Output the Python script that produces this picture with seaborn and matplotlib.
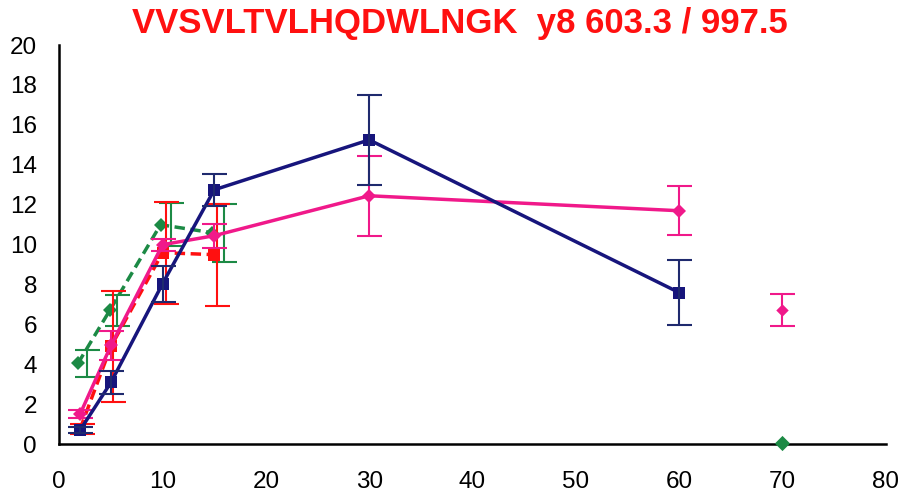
import numpy as np
import pandas as pd
import matplotlib
matplotlib.use("Agg")
import matplotlib.pyplot as plt
import seaborn as sns

# ---- data ----
title = "VVSVLTVLHQDWLNGK  y8 603.3 / 997.5"

navy_x = [2, 5, 10, 15, 30, 60]
navy_y = [0.7, 3.1, 8.05, 12.75, 15.25, 7.6]
navy_e = [0.15, 0.56, 0.9, 0.8, 2.25, 1.62]

pink_x = [2, 5, 10, 15, 30, 60]
pink_y = [1.5, 4.95, 10.0, 10.45, 12.45, 11.7]
pink_e = [0.2, 0.75, 0.3, 0.6, 2.0, 1.23]
pink_extra_x = [70]
pink_extra_y = [6.72]
pink_extra_e = [0.8]

green_x = [1.8, 4.9, 9.8, 14.8]
green_y = [4.05, 6.72, 11.0, 10.6]
green_e = [0.67, 0.77, 1.07, 1.46]
green_err_x = [2.65, 5.55, 10.8, 15.9]
green_extra_x = [70]
green_extra_y = [0.05]

red_x = [2, 5, 10, 15]
red_y = [0.75, 4.9, 9.6, 9.5]
red_e = [0.25, 2.8, 2.55, 2.55]
red_err_x = [2.2, 5.2, 10.3, 15.3]

x_ticks = [0, 10, 20, 30, 40, 50, 60, 70, 80]
y_ticks = [0, 2, 4, 6, 8, 10, 12, 14, 16, 18, 20]

NAVY = "#17157c"
PINK = "#f0198a"
GREEN = "#1c8a45"
RED = "#ff1010"

sns.set_style("white")
plt.rcParams['font.family'] = ['Liberation Sans', 'DejaVu Sans']

fig = plt.figure(figsize=(9.04, 4.96), dpi=100)
ax = fig.add_axes([0.0656, 0.1042, 0.9142, 0.805])

lw = 2.5
elw = 1.5
cap = 9

# green dashed
g = pd.DataFrame({"x": green_x, "y": green_y})
sns.lineplot(data=g, x="x", y="y", ax=ax, color=GREEN, lw=lw, linestyle=(0, (3, 1.6)),
             marker="D", markersize=7, markeredgewidth=0, zorder=2)
ax.errorbar(green_err_x, green_y, yerr=green_e, fmt="none", ecolor=GREEN,
            elinewidth=elw, capsize=cap, capthick=elw, zorder=2)
sns.scatterplot(x=green_extra_x, y=green_extra_y, ax=ax, color=GREEN, marker="D",
                s=60, linewidth=0, zorder=5, clip_on=False)

# red dashed
r = pd.DataFrame({"x": red_x, "y": red_y})
sns.lineplot(data=r, x="x", y="y", ax=ax, color=RED, lw=lw, linestyle=(0, (3, 1.6)),
             marker="s", markersize=8, markeredgewidth=0, zorder=3)
ax.errorbar(red_err_x, red_y, yerr=red_e, fmt="none", ecolor=RED,
            elinewidth=elw, capsize=cap, capthick=elw, zorder=3)

# pink solid
p = pd.DataFrame({"x": pink_x, "y": pink_y})
sns.lineplot(data=p, x="x", y="y", ax=ax, color=PINK, lw=lw,
             marker="D", markersize=7, markeredgewidth=0, zorder=4)
ax.errorbar(pink_x, pink_y, yerr=pink_e, fmt="none", ecolor=PINK,
            elinewidth=elw, capsize=cap, capthick=elw, zorder=4)
sns.scatterplot(x=pink_extra_x, y=pink_extra_y, ax=ax, color=PINK, marker="D",
                s=40, linewidth=0, zorder=4)
ax.errorbar(pink_extra_x, pink_extra_y, yerr=pink_extra_e, fmt="none", ecolor=PINK,
            elinewidth=elw, capsize=cap, capthick=elw, zorder=4)

# navy solid
n = pd.DataFrame({"x": navy_x, "y": navy_y})
sns.lineplot(data=n, x="x", y="y", ax=ax, color=NAVY, lw=lw,
             marker="s", markersize=8.5, markeredgewidth=0, zorder=5)
ax.errorbar(navy_x, navy_y, yerr=navy_e, fmt="none", ecolor="#1f2a6e",
            elinewidth=elw, capsize=cap, capthick=elw, zorder=5)

ax.set_xlim(0, 80)
ax.set_ylim(0, 20)
ax.set_xticks(x_ticks)
ax.set_yticks(y_ticks)
ax.set_xlabel("")
ax.set_ylabel("")
sns.despine(ax=ax)
for s in ["left", "bottom"]:
    ax.spines[s].set_color("black")
    ax.spines[s].set_linewidth(1.8)
ax.tick_params(axis="both", direction="out", length=7, width=1.8, color="black",
               labelsize=17.5, labelcolor="black")
ax.tick_params(axis="y", pad=9)
ax.tick_params(axis="x", pad=12)

fig.text(0.509, 0.953, title, ha="center", va="center", color="#ff1010",
         fontsize=25, fontweight="bold")

fig.savefig("out.png", dpi=100, facecolor="white")
